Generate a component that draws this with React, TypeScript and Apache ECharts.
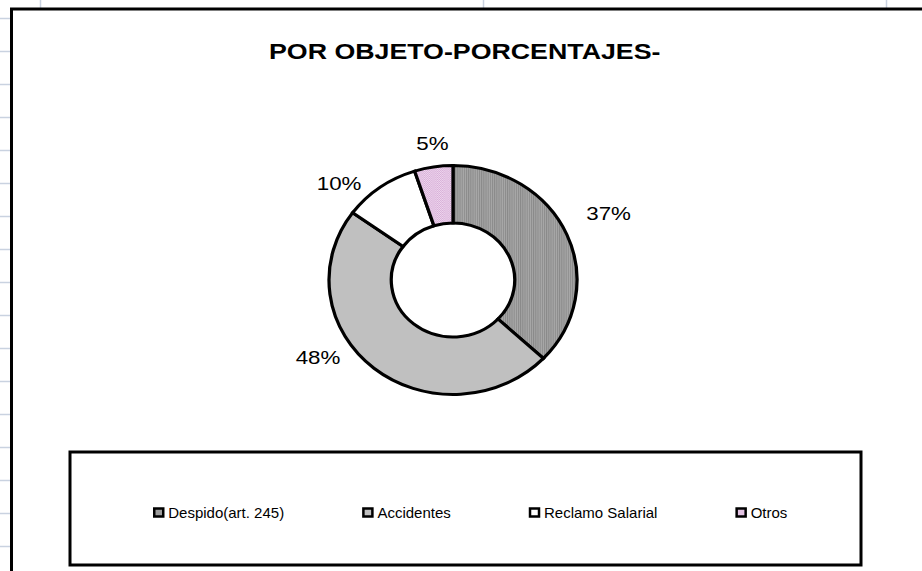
import React, { useEffect, useRef } from 'react';
import * as echarts from 'echarts';

const TITLE = 'POR OBJETO-PORCENTAJES-';
const CATEGORIES = ['Despido(art. 245)', 'Accidentes', 'Reclamo Salarial', 'Otros'];
const VALUES = [37, 48, 10, 5];
const COLORS = ['#9c9c9c', '#c0c0c0', '#ffffff', '#e4c4e4'];
// label placement relative to the ring (Excel's dragged labels): [distance factor, angle shift in degrees]
const LABEL_PLACEMENT = [
  [1.383, -1.5],
  [1.282, 18.5],
  [1.246, -11.5],
  [1.205, 1.1],
];

const FONT = '"Liberation Sans", Arial, sans-serif';
const CX = 453;
const CY = 280;
const RX = 124;
const RY = 114.5;
const RY_IN = 57;

function makePattern(kind: string) {
  const cv = document.createElement('canvas');
  cv.width = 2;
  cv.height = 2;
  const ctx = cv.getContext('2d')!;
  if (kind === 'stripes') {
    ctx.fillStyle = '#a9a9a9';
    ctx.fillRect(0, 0, 2, 2);
    ctx.fillStyle = '#8a8a8a';
    ctx.fillRect(0, 0, 1, 2);
  } else {
    ctx.fillStyle = '#eed8ee';
    ctx.fillRect(0, 0, 2, 2);
    ctx.fillStyle = '#d8aed8';
    ctx.fillRect(0, 0, 1, 1);
    ctx.fillRect(1, 1, 1, 1);
  }
  return { image: cv, repeat: 'repeat', imageWidth: 2, imageHeight: 2 } as any;
}

export default function App() {
  const ref = useRef<HTMLDivElement>(null);
  useEffect(() => {
    if (!ref.current) return;
    const chart = echarts.init(ref.current, null, { renderer: 'svg' });
    const total = VALUES.reduce((a, b) => a + b, 0);
    const cum: number[] = [];
    let acc = 0;
    VALUES.forEach((v) => {
      cum.push(acc);
      acc += v;
    });
    const fills: any[] = [makePattern('stripes'), COLORS[1], COLORS[2], makePattern('dots')];

    const series = CATEGORIES.map((name, i) => ({
      type: 'custom',
      name,
      coordinateSystem: 'none',
      silent: true,
      data: [VALUES[i]],
      itemStyle: { color: COLORS[i] },
      renderItem: (params: any, api: any) => {
        const v = api.value(0) as number;
        const a0 = -Math.PI / 2 + (2 * Math.PI * cum[i]) / total;
        const a1 = a0 + (2 * Math.PI * v) / total;
        const midDeg = ((cum[i] + v / 2) / total) * 360 + LABEL_PLACEMENT[i][1];
        const th = (midDeg * Math.PI) / 180;
        const d = LABEL_PLACEMENT[i][0];
        const lx = CX + RX * d * Math.sin(th);
        const ly = CY - RY * d * Math.cos(th);
        const pct = Math.round((v / total) * 100) + '%';
        return {
          type: 'group',
          children: [
            {
              type: 'group',
              x: CX,
              y: CY,
              scaleX: RX / RY,
              children: [
                {
                  type: 'sector',
                  shape: { cx: 0, cy: 0, r: RY, r0: RY_IN, startAngle: a0, endAngle: a1, clockwise: true },
                  style: { fill: fills[i], stroke: '#000', lineWidth: 3, strokeNoScale: true, lineJoin: 'miter' },
                },
              ],
            },
            {
              type: 'text',
              x: lx,
              y: ly,
              scaleX: 1.2,
              style: {
                text: pct,
                fontFamily: FONT,
                fontSize: 18.6,
                fill: '#000',
                align: 'center',
                verticalAlign: 'middle',
                textAlign: 'center',
                textVerticalAlign: 'middle',
              },
            },
          ],
        };
      },
    }));

    const gridEls: any[] = [];
    for (let y = 18; y < 571; y += 33) {
      gridEls.push({
        type: 'line',
        z: -5,
        shape: { x1: 0, y1: y + 0.5, x2: 12, y2: y + 0.5 },
        style: { stroke: '#c9d2e0', lineWidth: 1.5 },
      });
    }
    [40, 483, 886].forEach((x) => {
      gridEls.push({
        type: 'line',
        z: -5,
        shape: { x1: x + 0.5, y1: 0, x2: x + 0.5, y2: 10 },
        style: { stroke: '#c9d2e0', lineWidth: 1.5 },
      });
    });

    chart.setOption({
      animation: false,
      backgroundColor: '#ffffff',
      legend: {
        left: 148,
        top: 500,
        itemGap: 78,
        itemWidth: 9,
        itemHeight: 8,
        icon: 'rect',
        selectedMode: false,
        textStyle: { fontFamily: FONT, fontSize: 15, color: '#000' },
        data: CATEGORIES.map((n, i) => ({
          name: n,
          itemStyle: { color: COLORS[i], borderColor: '#000', borderWidth: 2.5 },
        })),
      },
      graphic: {
        elements: [
          ...gridEls,
          {
            type: 'rect',
            z: -4,
            shape: { x: 11.5, y: 9, width: 1000, height: 1000 },
            style: { fill: '#fff', stroke: '#000', lineWidth: 3 },
          },
          {
            type: 'rect',
            z: -3,
            shape: { x: 70, y: 452, width: 791, height: 113 },
            style: { fill: '#fff', stroke: '#000', lineWidth: 3 },
          },
          {
            type: 'text',
            z: 10,
            x: 464.7,
            y: 51.3,
            scaleX: 1.2,
            style: {
              text: TITLE,
              fontFamily: FONT,
              fontWeight: 'bold',
              fontSize: 22.3,
              fill: '#000',
              align: 'center',
              verticalAlign: 'middle',
              textAlign: 'center',
              textVerticalAlign: 'middle',
            },
          },
        ],
      },
      series,
    } as any);
    return () => chart.dispose();
  }, []);
  return (
    <div
      ref={ref}
      style={{ position: 'fixed', left: 0, top: 0, width: 922, height: 571, background: '#fff' }}
    />
  );
}
